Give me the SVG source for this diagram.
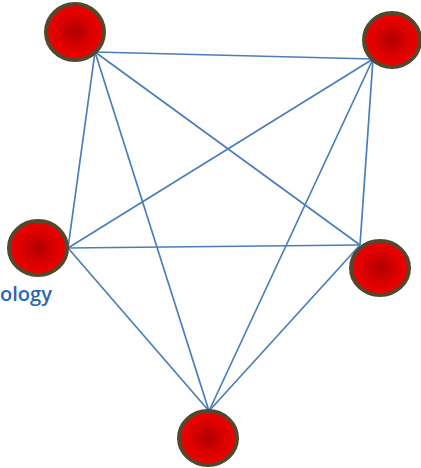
<svg xmlns="http://www.w3.org/2000/svg" width="421" height="468" viewBox="0 0 421 468">
<defs>
<radialGradient id="rg" cx="50%" cy="50%" r="50%">
<stop offset="0" stop-color="#b00000"/>
<stop offset="0.6" stop-color="#dd0000"/>
<stop offset="1" stop-color="#f00000"/>
</radialGradient>
<style>
.node{fill:url(#rg);stroke:#54472c;stroke-width:4}
.edge{stroke:#4a7ebb;stroke-width:1.7;fill:none}
.lbl{font-family:"Open Sans","Liberation Sans",sans-serif;font-size:20px;font-weight:600;fill:#2e64b0}
</style>
</defs>
<g id="connectors">
<line class="edge" x1="95" y1="52" x2="373" y2="59"/>
<line class="edge" x1="95" y1="52" x2="68" y2="248"/>
<line class="edge" x1="95" y1="52" x2="209" y2="411"/>
<line class="edge" x1="95" y1="52" x2="360" y2="245"/>
<line class="edge" x1="373" y1="59" x2="68" y2="248"/>
<line class="edge" x1="373" y1="59" x2="209" y2="411"/>
<line class="edge" x1="373" y1="59" x2="360" y2="245"/>
<line class="edge" x1="68" y1="248" x2="209" y2="411"/>
<line class="edge" x1="68" y1="248" x2="360" y2="245"/>
<line class="edge" x1="209" y1="411" x2="360" y2="245"/>
</g>
<g id="n1"><ellipse class="node" cx="75" cy="32" rx="29" ry="28"/></g>
<g id="n2"><ellipse class="node" cx="392" cy="40" rx="28" ry="27"/></g>
<g id="n3"><ellipse class="node" cx="38" cy="248" rx="29" ry="27"/></g>
<g id="n4"><ellipse class="node" cx="208" cy="438" rx="29" ry="27"/></g>
<g id="n5"><ellipse class="node" cx="380" cy="268" rx="29" ry="27"/></g>
<g id="label"><text class="lbl" x="0" y="301" textLength="52" lengthAdjust="spacingAndGlyphs">ology</text></g>
</svg>
